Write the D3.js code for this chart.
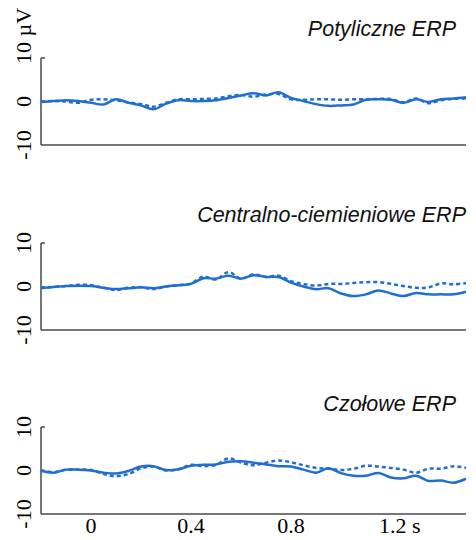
<!DOCTYPE html>
<html>
<head>
<meta charset="utf-8">
<script src="https://cdn.jsdelivr.net/npm/d3@7"></script>
<style>
  body { margin: 0; background: #fff; }
  svg { display: block; }
</style>
</head>
<body>
<div id="chart"></div>
<script>
// time points (s), shared by all traces
var times = [-0.2,-0.15,-0.1,-0.05,0,0.05,0.1,0.15,0.2,0.25,0.3,0.35,0.4,0.45,0.5,0.55,0.6,0.65,0.7,0.75,0.8,0.85,0.9,0.95,1.0,1.05,1.1,1.15,1.2,1.25,1.3,1.35,1.4,1.45,1.5];

var titles = ['Potyliczne ERP', 'Centralno-ciemieniowe ERP', 'Czołowe ERP'];

// µV, solid and dashed trace for each panel
var occSolid  = [-0.1,0.1,0.3,0.1,-0.3,-0.7,0.5,-0.3,-0.9,-1.8,-0.5,0.3,0.1,0.1,0.3,0.8,1.4,1.9,1.4,2.1,0.8,0.1,-0.6,-1.0,-0.9,-0.7,0.4,0.5,0.4,-0.3,0.5,-0.1,0.5,0.7,1.0];
var occDashed = [0,0.1,0,-0.3,0.4,0.5,0.3,-0.2,-0.6,-1.2,-0.3,0.5,0.5,0.6,0.7,1.2,1.5,1.1,1.6,1.7,0.5,0.4,0.5,0.5,0.4,0.5,0.5,0.6,0.6,-0.2,0.7,-0.4,0.3,0.6,0.7];
var cpSolid   = [-0.4,-0.1,0.1,0.2,0.1,-0.3,-0.6,-0.4,-0.2,-0.4,0,0.3,0.6,1.9,1.8,2.5,1.8,2.6,2.2,2.2,0.9,0,-0.6,-0.4,-1.6,-2.2,-1.8,-0.9,-1.6,-2.2,-1.5,-1.8,-1.8,-1.8,-1.2];
var cpDashed  = [-0.2,-0.1,0.1,0.4,0.3,-0.3,-0.8,-0.3,-0.2,-0.6,0,0.3,0.7,2.3,1.6,3.3,1.8,2.8,2.2,2.5,1.2,0.6,0.2,0.6,0.6,0.8,1.0,1.0,0.6,0.1,-0.3,-0.2,0.7,0.5,0.8];
var frSolid   = [0,-0.5,0.2,0.2,0,-0.5,-0.7,-0.1,0.9,1.0,0.1,0.3,1.1,1.3,1.4,2.0,2.1,1.8,1.4,1.0,0.9,0.2,-0.5,0.5,-0.6,-1.2,-1.2,-0.6,-1.6,-1.8,-1.2,-2.4,-2.3,-2.8,-1.9];
var frDashed  = [0,-0.4,0.2,0.2,0.1,-0.8,-1.3,-0.8,0.5,0.9,0,0.3,1.3,1.0,1.3,2.8,1.8,1.2,1.8,2.3,1.9,1.2,0.6,0.4,0.1,0.4,1.1,0.9,0.6,0.2,-0.5,0.4,0.4,1.0,0.6];

var yTicks = [-10, 0, 10];
var xTicks = [0, 0.4, 0.8, 1.2];
var xTickLabels = ['0', '0.4', '0.8', '1.2 s'];

var solids = [occSolid, cpSolid, frSolid];
var dashes = [occDashed, cpDashed, frDashed];

// layout
var W = 476, H = 540;
var left = 41, right = 466;
var panelTop = [58, 243, 427];
var panelH = 87;
var titleY = [36, 222, 411];
var titleX = [456, 466, 456];
var blue = '#1f6fd3';
var axisCol = '#4a4a4a';

var svg = d3.select('#chart').append('svg')
    .attr('width', W)
    .attr('height', H);

var x = d3.scaleLinear().domain([-0.2, 1.5]).range([left, right]);

titles.forEach(function (title, p) {
    var y = d3.scaleLinear().domain([-10, 10]).range([panelTop[p] + panelH, panelTop[p]]);
    var g = svg.append('g');

    // axes
    g.append('line')
        .attr('x1', x(-0.2)).attr('x2', x(-0.2))
        .attr('y1', y(10)).attr('y2', y(-10))
        .attr('stroke', axisCol).attr('stroke-width', 1.5);
    g.append('line')
        .attr('x1', x(-0.2)).attr('x2', x(1.5))
        .attr('y1', y(-10)).attr('y2', y(-10))
        .attr('stroke', axisCol).attr('stroke-width', 1.5);
    g.append('line')
        .attr('x1', x(-0.2)).attr('x2', x(-0.2) + 4)
        .attr('y1', y(10)).attr('y2', y(10))
        .attr('stroke', axisCol).attr('stroke-width', 1.5);

    // y tick labels, rotated
    yTicks.forEach(function (v) {
        var lab = (p === 0 && v === 10) ? '10 µV' : String(v);
        var ty = y(v);
        var t = g.append('text')
            .attr('font-family', '"Liberation Serif", "DejaVu Serif", serif')
            .attr('font-size', 22)
            .attr('dominant-baseline', 'central')
            .text(lab);
        if (lab === '10 µV') {
            t.attr('text-anchor', 'start')
             .attr('transform', 'translate(23,' + (ty + 6) + ') rotate(-90)');
        } else {
            t.attr('text-anchor', 'middle')
             .attr('transform', 'translate(23,' + ty + ') rotate(-90)');
        }
    });

    // title
    g.append('text')
        .attr('x', titleX[p]).attr('y', titleY[p])
        .attr('text-anchor', 'end')
        .attr('font-family', '"Liberation Sans", Arial, sans-serif')
        .attr('font-style', 'italic')
        .attr('font-size', 21.5)
        .attr('fill', '#111')
        .text(title);

    var line = d3.line()
        .x(function (d, i) { return x(times[i]); })
        .y(function (d) { return y(d); })
        .curve(d3.curveCatmullRom.alpha(0.5));

    g.append('path')
        .datum(dashes[p])
        .attr('d', line)
        .attr('fill', 'none')
        .attr('stroke', blue)
        .attr('stroke-width', 2.5)
        .attr('stroke-dasharray', '4,3');

    g.append('path')
        .datum(solids[p])
        .attr('d', line)
        .attr('fill', 'none')
        .attr('stroke', blue)
        .attr('stroke-width', 2.5);

    // x tick labels only under last panel
    if (p === 2) {
        xTicks.forEach(function (v, i) {
            g.append('text')
                .attr('x', x(v)).attr('y', 533)
                .attr('text-anchor', i === 3 ? 'start' : 'middle')
                .attr('dx', i === 3 ? -12 : 0)
                .attr('font-family', '"Liberation Serif", "DejaVu Serif", serif')
                .attr('font-size', 22)
                .text(xTickLabels[i]);
        });
    }
});
</script>
</body>
</html>
